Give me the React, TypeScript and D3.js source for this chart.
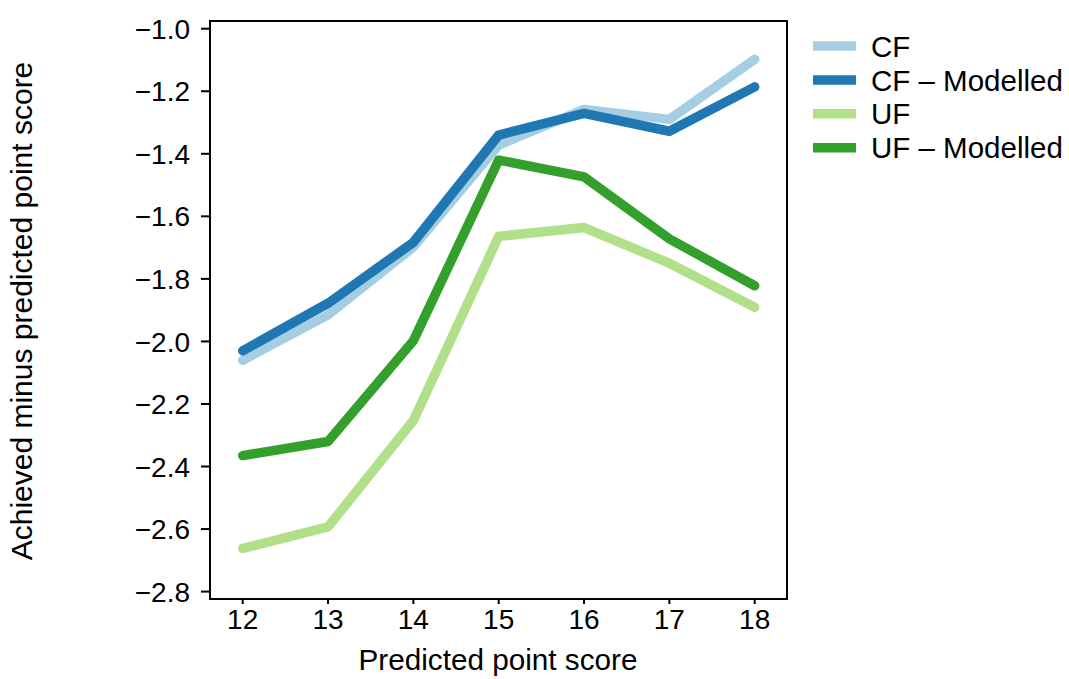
import React from "react";
import * as d3 from "d3";

// Predicted point score on the x axis
const scores = [12, 13, 14, 15, 16, 17, 18];

// Achieved minus predicted point score for each series
const cfObserved = [-2.06, -1.915, -1.698, -1.372, -1.258, -1.29, -1.098];
const cfModelled = [-2.03, -1.878, -1.683, -1.34, -1.271, -1.328, -1.186];
const ufObserved = [-2.662, -2.593, -2.253, -1.664, -1.636, -1.75, -1.891];
const ufModelled = [-2.365, -2.32, -1.998, -1.42, -1.474, -1.672, -1.822];

const seriesNames = ["CF", "CF \u2013 Modelled", "UF", "UF \u2013 Modelled"];
const seriesColors = ["#a6cee3", "#1f78b4", "#b2df8a", "#33a02c"];
const seriesValues = [cfObserved, cfModelled, ufObserved, ufModelled];

const yTicks = [-1.0, -1.2, -1.4, -1.6, -1.8, -2.0, -2.2, -2.4, -2.6, -2.8];

const W = 1069;
const H = 679;
const frame = { left: 210, right: 787, top: 21, bottom: 599 };
const FONT = "'Liberation Sans', Arial, Helvetica, sans-serif";

const x = d3.scaleLinear().domain([12, 18]).range([242.7, 754.7]);
const y = d3.scaleLinear().domain([-2.8, -1.0]).range([591.6, 28.7]);

const fmt = (v: number) => d3.format(".1f")(v).replace("-", "\u2212");

export default function App() {
  const line = d3
    .line<number>()
    .x((_, i) => x(scores[i]))
    .y((d) => y(d));

  return (
    <svg
      width={W}
      height={H}
      style={{ position: "absolute", left: 0, top: 0, background: "#fff" }}
      fontFamily={FONT}
    >
      <rect x={0} y={0} width={W} height={H} fill="#fff" />

      {/* series lines */}
      {seriesValues.map((vals, k) => (
        <path
          key={seriesNames[k]}
          d={line(vals) ?? ""}
          fill="none"
          stroke={seriesColors[k]}
          strokeWidth={9.5}
          strokeLinecap="round"
          strokeLinejoin="round"
        />
      ))}

      {/* plot frame */}
      <rect
        x={frame.left}
        y={frame.top}
        width={frame.right - frame.left}
        height={frame.bottom - frame.top}
        fill="none"
        stroke="#000"
        strokeWidth={2}
      />

      {/* y axis ticks and labels */}
      {yTicks.map((t) => (
        <g key={t}>
          <line x1={frame.left - 9} x2={frame.left} y1={y(t)} y2={y(t)} stroke="#000" strokeWidth={2} />
          <text
            x={frame.left - 20}
            y={y(t)}
            dy="0.36em"
            textAnchor="end"
            fontSize={28}
            fill="#000"
          >
            {fmt(t)}
          </text>
        </g>
      ))}

      {/* x axis ticks and labels */}
      {scores.map((s) => (
        <g key={s}>
          <line x1={x(s)} x2={x(s)} y1={frame.bottom} y2={frame.bottom + 5} stroke="#000" strokeWidth={2} />
          <text x={x(s)} y={629} textAnchor="middle" fontSize={28} fill="#000">
            {s}
          </text>
        </g>
      ))}

      {/* axis titles */}
      <text x={498} y={670} textAnchor="middle" fontSize={29.7} fill="#000">
        Predicted point score
      </text>
      <text
        transform={`translate(32,311) rotate(-90)`}
        textAnchor="middle"
        fontSize={30}
        fill="#000"
      >
        Achieved minus predicted point score
      </text>

      {/* legend */}
      {seriesNames.map((name, k) => {
        const ly = 46 + k * 33.9;
        return (
          <g key={name}>
            <line x1={813} x2={856} y1={ly} y2={ly} stroke={seriesColors[k]} strokeWidth={9.5} />
            <text x={871} y={ly} dy="0.36em" fontSize={29.5} fill="#000">
              {name}
            </text>
          </g>
        );
      })}
    </svg>
  );
}
